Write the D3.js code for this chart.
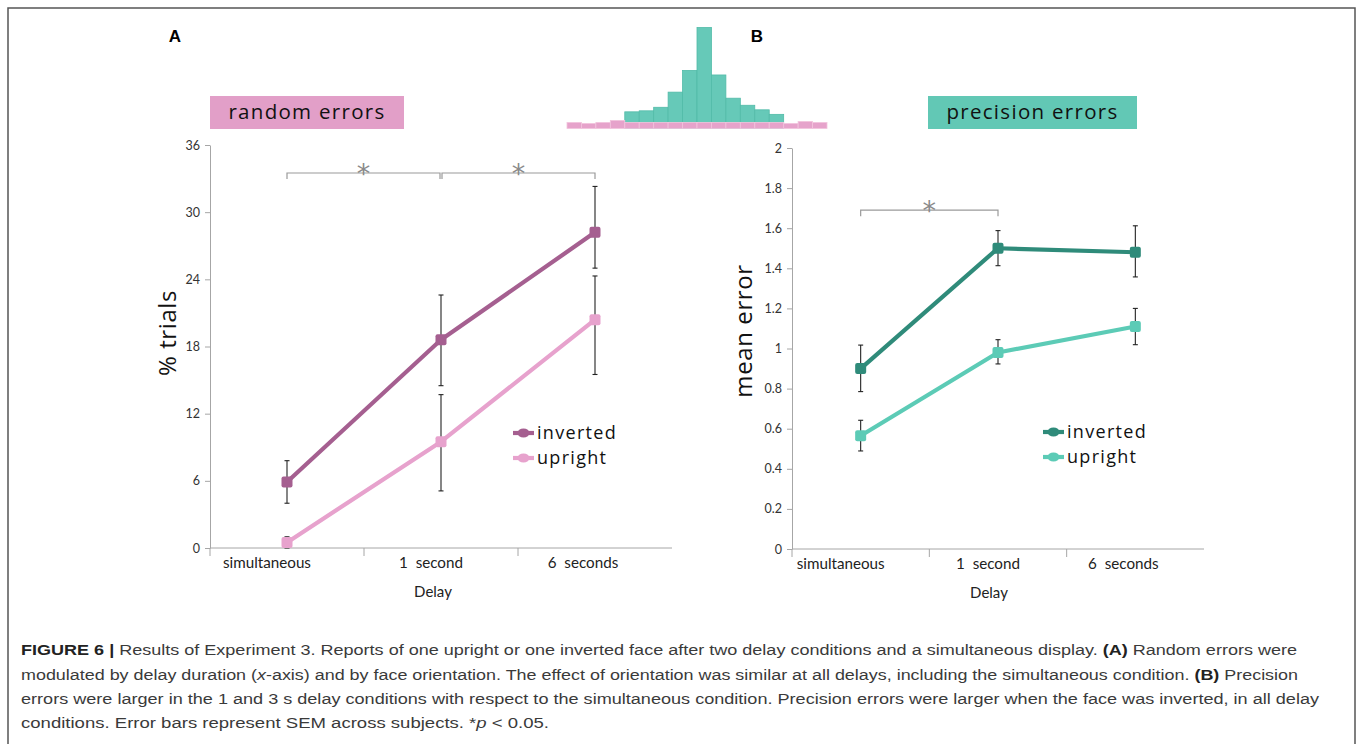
<!DOCTYPE html>
<html><head><meta charset="utf-8">
<script src="https://cdn.jsdelivr.net/npm/d3@7"></script>
<style>
html,body{margin:0;padding:0;background:#fff;}
svg{display:block;}
</style></head>
<body>
<svg id="c" width="1357" height="744"></svg>
<script>
// ---------- data ----------
const categories = ["simultaneous", "1  second", "6  seconds"];
const seriesNames = ["inverted", "upright"];

// Panel A: random errors (% trials)
const randomInverted = [5.9, 18.6, 28.2];
const randomInvertedLo = [4.0, 14.5, 25.0];
const randomInvertedHi = [7.8, 22.6, 32.3];
const randomUpright = [0.5, 9.5, 20.4];
const randomUprightLo = [0.0, 5.1, 15.5];
const randomUprightHi = [1.0, 13.7, 24.3];
const randomTicks = [0, 6, 12, 18, 24, 30, 36];

// Panel B: precision errors (mean error)
const precInverted = [0.90, 1.50, 1.48];
const precInvertedLo = [0.785, 1.413, 1.357];
const precInvertedHi = [1.017, 1.588, 1.612];
const precUpright = [0.565, 0.98, 1.11];
const precUprightLo = [0.489, 0.923, 1.019];
const precUprightHi = [0.642, 1.044, 1.200];
const precTicks = [0, 0.2, 0.4, 0.6, 0.8, 1, 1.2, 1.4, 1.6, 1.8, 2];

// significance brackets (category index pairs)
const sigA = [[0, 1], [1, 2]];
const sigB = [[0, 1]];

// illustrative histogram (relative counts)
const histPrecision = [0, 0, 0, 0, 16.5, 17.5, 21, 36, 57.5, 100, 53, 30, 23, 18.5, 14, 0, 0, 0];
const histRandom = [6, 5, 6, 8, 6, 6, 6, 6, 6, 6, 6, 6, 6, 6, 6, 5, 7, 6];

// ---------- drawing ----------
const svg = d3.select("#c");
const chartFont = "Lato, 'Open Sans', sans-serif";
const labelFont = "'Open Sans', sans-serif";
const axisGrey = "#a6a6a6";

// outer frame
svg.append("rect").attr("x", 8).attr("y", 8).attr("width", 1347).attr("height", 760)
  .attr("fill", "none").attr("stroke", "#555").attr("stroke-width", 1.5);

// histogram
const hx = d3.scaleBand(d3.range(histRandom.length), [567, 827]).padding(0);
const hy = d3.scaleLinear([0, 100], [128.5, 27.5]);
const gh = svg.append("g");
gh.selectAll("rect.p").data(histPrecision.map((v, i) => ({v, i})).filter(d => d.v > 0)).join("rect")
  .attr("class", "p").attr("x", d => hx(d.i)).attr("y", d => hy(d.v)).attr("width", hx.bandwidth())
  .attr("height", d => hy(0) - hy(d.v)).attr("fill", "#66c9b8").attr("stroke", "#52bba8").attr("stroke-width", 0.8);
gh.selectAll("rect.r").data(histRandom.map((v, i) => ({v, i}))).join("rect")
  .attr("class", "r").attr("x", d => hx(d.i)).attr("y", d => hy(d.v)).attr("width", hx.bandwidth())
  .attr("height", d => hy(0) - hy(d.v)).attr("fill", "#e6a3cb").attr("stroke", "#f2c4dd").attr("stroke-width", 0.8);

// panel letters
svg.append("text").attr("x", 175).attr("y", 42).attr("text-anchor", "middle")
  .attr("font-family", "'Liberation Sans', Arial, sans-serif").attr("font-weight", "bold")
  .attr("font-size", 17).text("A");
svg.append("text").attr("x", 757).attr("y", 42).attr("text-anchor", "middle")
  .attr("font-family", "'Liberation Sans', Arial, sans-serif").attr("font-weight", "bold")
  .attr("font-size", 17).text("B");

function panel(opts) {
  const g = svg.append("g");
  const x = d3.scaleBand(categories, opts.xr);
  const y = d3.scaleLinear(opts.ydom, opts.yr);
  const cx = c => x(c) + x.bandwidth() / 2;

  // title box
  g.append("rect").attr("x", opts.box[0]).attr("y", opts.box[1]).attr("width", opts.box[2])
    .attr("height", opts.box[3]).attr("fill", opts.boxFill);
  g.append("text").attr("x", opts.box[0] + opts.box[2] / 2).attr("y", opts.box[1] + 22.5)
    .attr("text-anchor", "middle").attr("font-family", labelFont).attr("font-size", 20.5)
    .attr("letter-spacing", 1.3).attr("fill", "#111").text(opts.title);

  // y axis
  const ya = g.append("g").attr("transform", `translate(${opts.xr[0]},0)`)
    .call(d3.axisLeft(y).tickValues(opts.ticks).tickSize(5).tickSizeOuter(0).tickPadding(5)
      .tickFormat(opts.fmt));
  ya.select(".domain").attr("stroke", axisGrey);
  ya.selectAll(".tick line").attr("stroke", axisGrey);
  ya.selectAll(".tick text").attr("font-family", chartFont).attr("font-size", 12.5).attr("fill", "#333");
  g.append("line").attr("x1", opts.xr[0]).attr("x2", opts.xr[0]).attr("y1", y(0)).attr("y2", y(0) + 8)
    .attr("stroke", axisGrey);

  // x axis line & boundary ticks
  g.append("line").attr("x1", opts.xr[0]).attr("x2", opts.xr[1]).attr("y1", y(0)).attr("y2", y(0))
    .attr("stroke", axisGrey);
  categories.slice(1).forEach(c => {
    g.append("line").attr("x1", x(c)).attr("x2", x(c)).attr("y1", y(0)).attr("y2", y(0) + 8)
      .attr("stroke", axisGrey);
  });
  const xa = g.append("g").attr("transform", `translate(0,${y(0)})`)
    .call(d3.axisBottom(x).tickSize(0).tickPadding(9));
  xa.select(".domain").remove();
  const shift = [-20, -10, -12];
  xa.selectAll(".tick text").attr("font-family", chartFont).attr("font-size", 15.2).attr("fill", "#222")
    .style("white-space", "pre").attr("dx", (d, i) => shift[i]);

  // x title
  g.append("text").attr("x", opts.delayX).attr("y", y(0) + 49).attr("text-anchor", "middle")
    .attr("font-family", chartFont).attr("font-size", 15).attr("fill", "#222").text("Delay");
  // y title
  g.append("text").attr("transform", `translate(${opts.ylabX},${opts.ylabY}) rotate(-90)`)
    .attr("text-anchor", "middle").attr("font-family", labelFont).attr("font-size", opts.ylabSize)
    .attr("font-weight", 500).attr("letter-spacing", 0.6).attr("fill", "#111").text(opts.ylab);

  // significance brackets
  opts.sig.forEach(([a, b], k) => {
    const x1 = cx(categories[a]) + (k > 0 ? 1 : 0), x2 = cx(categories[b]) - (opts.sig.length > 1 && k === 0 ? 1 : 0);
    const by = y(opts.sigY);
    g.append("path").attr("d", `M${x1},${by + 6}V${by}H${x2}V${by + 6}`)
      .attr("fill", "none").attr("stroke", "#9a9a9a").attr("stroke-width", 1.2);
    g.append("text").attr("x", (x1 + x2) / 2).attr("y", by + 10).attr("text-anchor", "middle")
      .attr("font-family", "'DejaVu Sans', sans-serif").attr("font-size", 27).attr("fill", "#8a8a8a").text("*");
  });

  // series
  const line = d3.line().x((d, i) => cx(categories[i])).y(d => y(d));
  opts.series.forEach(s => {
    s.v.forEach((v, i) => {
      const px = cx(categories[i]);
      const ey = g.append("g").attr("stroke", "#222").attr("stroke-width", 1.1);
      ey.append("line").attr("x1", px).attr("x2", px).attr("y1", y(s.hi[i])).attr("y2", y(s.lo[i]));
      ey.append("line").attr("x1", px - 2.5).attr("x2", px + 2.5).attr("y1", y(s.hi[i])).attr("y2", y(s.hi[i]));
      ey.append("line").attr("x1", px - 2.5).attr("x2", px + 2.5).attr("y1", y(s.lo[i])).attr("y2", y(s.lo[i]));
    });
  });
  opts.series.forEach(s => {
    g.append("path").attr("d", line(s.v)).attr("fill", "none").attr("stroke", s.color)
      .attr("stroke-width", 4.2).attr("stroke-linejoin", "round");
    g.selectAll(null).data(s.v).join("rect")
      .attr("x", (v, i) => cx(categories[i]) - 5.5).attr("y", v => y(v) - 5.5).attr("width", 11).attr("height", 11)
      .attr("rx", 2).attr("fill", s.color);
  });

  // legend
  opts.series.forEach((s, k) => {
    const ly = opts.leg[1] + k * 25;
    g.append("line").attr("x1", opts.leg[0]).attr("x2", opts.leg[0] + 21).attr("y1", ly).attr("y2", ly)
      .attr("stroke", s.color).attr("stroke-width", 4.2);
    g.append("ellipse").attr("cx", opts.leg[0] + 10.5).attr("cy", ly).attr("rx", 6).attr("ry", 4.5).attr("fill", s.color);
    g.append("text").attr("x", opts.leg[0] + 24).attr("y", ly + 6).attr("font-family", labelFont)
      .attr("font-size", 18).attr("letter-spacing", 1.3).attr("fill", "#111").text(seriesNames[k]);
  });
}

panel({
  xr: [210, 672], ydom: [0, 36], yr: [548, 145], ticks: randomTicks, fmt: d3.format("d"),
  box: [210, 96, 194, 33], boxFill: "#e29fc8", title: "random errors",
  delayX: 433, ylab: "% trials", ylabX: 176, ylabY: 333, ylabSize: 24,
  sig: sigA, sigY: 33.5,
  series: [
    {v: randomInverted, lo: randomInvertedLo, hi: randomInvertedHi, color: "#a55f90"},
    {v: randomUpright, lo: randomUprightLo, hi: randomUprightHi, color: "#e7a2cd"}
  ],
  leg: [513, 433]
});

panel({
  xr: [792, 1204], ydom: [0, 2], yr: [549, 148], ticks: precTicks, fmt: d => d3.format("~g")(d),
  box: [928, 96, 209, 33], boxFill: "#62c8b5", title: "precision errors",
  delayX: 989, ylab: "mean error", ylabX: 752, ylabY: 331, ylabSize: 24,
  sig: sigB, sigY: 1.69,
  series: [
    {v: precInverted, lo: precInvertedLo, hi: precInvertedHi, color: "#2f8b7a"},
    {v: precUpright, lo: precUprightLo, hi: precUprightHi, color: "#5ccbb6"}
  ],
  leg: [1043, 432]
});

// caption
const cap = svg.append("g").attr("font-family", "'Liberation Sans', Arial, sans-serif")
  .attr("font-size", 15.5).attr("fill", "#3a3a3a");
const capLines = [
  {y: 655, end: 1297, parts: [["FIGURE 6 | ", "b"], ["Results of Experiment 3. Reports of one upright or one inverted face after two delay conditions and a simultaneous display. "], ["(A)", "b"], [" Random errors were"]]},
  {y: 680, end: 1298, parts: [["modulated by delay duration ("], ["x", "i"], ["-axis) and by face orientation. The effect of orientation was similar at all delays, including the simultaneous condition. "], ["(B)", "b"], [" Precision"]]},
  {y: 704, end: 1319, parts: [["errors were larger in the 1 and 3 s delay conditions with respect to the simultaneous condition. Precision errors were larger when the face was inverted, in all delay"]]},
  {y: 728, end: 549, parts: [["conditions. Error bars represent SEM across subjects. *"], ["p", "i"], [" < 0.05."]]}
];
capLines.forEach(l => {
  const t = cap.append("text").attr("x", 21).attr("y", l.y).style("white-space", "pre");
  l.parts.forEach(p => {
    const ts = t.append("tspan").text(p[0]);
    if (p[1] === "b") ts.attr("font-weight", "bold").attr("fill", "#222");
    if (p[1] === "i") ts.attr("font-style", "italic");
  });
  t.attr("textLength", l.end - 21).attr("lengthAdjust", "spacingAndGlyphs");
});
</script>
</body></html>
